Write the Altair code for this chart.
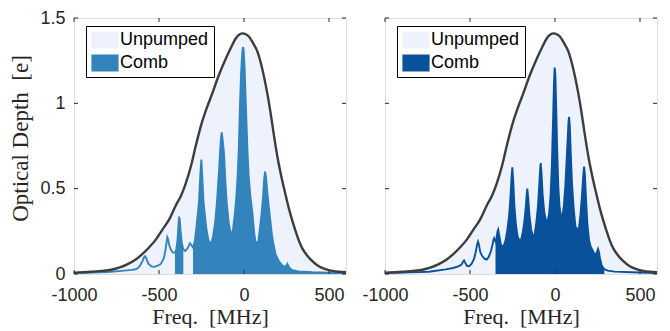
import altair as alt
import pandas as pd

# ---------------- data ----------------
env_freq = [-1000, -900, -833, -780, -735, -690, -637, -600, -559, -520, -480, -440, -402, -370,
            -343, -310, -284, -250, -220, -186, -150, -108, -75, -49, -25, -8, 10, 30, 49, 80,
            108, 135, 157, 175, 196, 220, 243, 265, 285, 304, 325, 343, 370, 402, 440, 480,
            520, 559, 600]
env_od = [0.008, 0.013, 0.018, 0.025, 0.037, 0.055, 0.085, 0.115, 0.155, 0.2, 0.26, 0.32, 0.4, 0.46,
          0.53, 0.64, 0.75, 0.88, 0.97, 1.06, 1.16, 1.26, 1.33, 1.38, 1.405, 1.41, 1.405, 1.39, 1.36, 1.3,
          1.2, 1.07, 0.94, 0.82, 0.69, 0.57, 0.47, 0.38, 0.31, 0.25, 0.19, 0.15, 0.11, 0.075, 0.045, 0.028,
          0.018, 0.013, 0.01]

left_freq = [-1000, -900, -800, -735, -660, -637, -620, -608, -595, -588, -582, -576, -563, -545,
             -529, -510, -490, -471, -462, -455, -451, -447, -440, -431, -418, -406, -398, -391,
             -386, -382, -378, -373, -366, -357, -347, -335, -325, -318, -310, -300, -290, -280,
             -265, -257, -251, -246, -238, -222, -210, -196, -182, -170, -159, -146, -141, -136,
             -131, -126, -118, -110, -102, -90, -75, -65, -55, -45, -36, -30, -24, -17, -10, -6,
             -2, 3, 9, 14, 20, 27, 37, 49, 60, 69, 84, 94, 104, 112, 118, 124, 130, 137, 143, 153,
             163, 172, 186, 205, 225, 242, 250, 255, 260, 268, 285, 320, 400, 500, 600]
left_od = [0.006, 0.008, 0.012, 0.017, 0.024, 0.028, 0.038, 0.056, 0.08, 0.098, 0.104, 0.095, 0.06, 0.045,
           0.042, 0.048, 0.058, 0.094, 0.14, 0.19, 0.215, 0.205, 0.17, 0.145, 0.125, 0.125, 0.145, 0.2,
           0.28, 0.336, 0.32, 0.25, 0.18, 0.145, 0.135, 0.145, 0.165, 0.18, 0.17, 0.155, 0.19, 0.27,
           0.42, 0.58, 0.67, 0.58, 0.42, 0.27, 0.2, 0.17, 0.22, 0.3, 0.42, 0.62, 0.71, 0.79,
           0.83, 0.79, 0.71, 0.55, 0.42, 0.3, 0.22, 0.26, 0.34, 0.45, 0.6, 0.75, 0.98, 1.18, 1.3, 1.33,
           1.31, 1.22, 1.05, 0.9, 0.73, 0.58, 0.46, 0.36, 0.24, 0.18, 0.19, 0.27, 0.36, 0.45, 0.55, 0.6,
           0.56, 0.48, 0.42, 0.33, 0.24, 0.18, 0.115, 0.075, 0.05, 0.042, 0.05, 0.06, 0.05, 0.035, 0.022,
           0.015, 0.01, 0.008, 0.006]

right_freq = [-1000, -900, -800, -741, -643, -600, -565, -550, -542, -535, -528, -518, -505, -490,
              -476, -466, -458, -453, -448, -440, -428, -415, -402, -390, -378, -368, -362, -358,
              -353, -350, -344, -338, -334, -329, -320, -310, -300, -290, -280, -270, -262, -256,
              -251, -246, -239, -230, -220, -210, -200, -190, -180, -172, -167, -163, -158, -150,
              -140, -129, -120, -110, -100, -92, -87, -84, -80, -73, -63, -52, -45, -35, -26, -18,
              -11, -6, -2, 2, 7, 13, 20, 27, 35, 43, 52, 61, 68, 75, 80, 83, 87, 93, 100, 110, 120,
              131, 141, 150, 158, 165, 171, 176, 182, 190, 200, 210, 218, 230, 240, 247, 253, 258,
              265, 275, 290, 310, 350, 450, 600]
right_od = [0.006, 0.008, 0.011, 0.013, 0.027, 0.035, 0.046, 0.055, 0.07, 0.079, 0.065, 0.048, 0.045, 0.06,
            0.09, 0.13, 0.175, 0.19, 0.175, 0.13, 0.105, 0.09, 0.085, 0.1, 0.13, 0.17, 0.2, 0.21,
            0.195, 0.19, 0.21, 0.25, 0.26, 0.23, 0.18, 0.155, 0.17, 0.2, 0.26, 0.34, 0.45, 0.56,
            0.625, 0.55, 0.4, 0.29, 0.22, 0.195, 0.2, 0.24, 0.31, 0.39, 0.46, 0.5, 0.45, 0.34,
            0.26, 0.22, 0.23, 0.3, 0.4, 0.53, 0.62, 0.65, 0.6, 0.47, 0.36, 0.31, 0.3, 0.35, 0.46, 0.65,
            0.92, 1.12, 1.21, 1.17, 0.98, 0.72, 0.5, 0.39, 0.34, 0.33, 0.4, 0.52, 0.66, 0.8, 0.9, 0.92,
            0.87, 0.7, 0.53, 0.38, 0.28, 0.26, 0.27, 0.35, 0.45, 0.56, 0.63, 0.58, 0.45, 0.3, 0.2, 0.16,
            0.145, 0.12, 0.115, 0.13, 0.147, 0.13, 0.09, 0.05, 0.028, 0.02, 0.014, 0.01, 0.006]

left_fill_ranges = [(-406, -357), (-300, 600)]
right_fill_ranges = [(-350, 290)]

x_ticks = [-1000, -500, 0, 500]
y_ticks = [0, 0.5, 1, 1.5]
series_names = ["Unpumped", "Comb"]

# ---------------- style ----------------
LEFT_COLOR = "#3383bd"
RIGHT_COLOR = "#0a519c"
ENV_FILL = "#edf2fd"
ENV_LINE = "#3d3d3d"
AX = "#262626"
W, H = 272, 256


def panel(cf, co, fills, color, show_y):
    env = pd.DataFrame({"f": env_freq, "od": env_od, "series": series_names[0]})
    comb = pd.DataFrame({"f": cf, "od": co})
    segs = []
    for i, (lo, hi) in enumerate(fills):
        s = comb[(comb.f >= lo) & (comb.f <= hi)].copy()
        s["seg"] = i
        s["series"] = series_names[1]
        segs.append(s)
    fill_df = pd.concat(segs, ignore_index=True)

    xs = alt.Scale(domain=[-1000, 600], nice=False, zero=False)
    ys = alt.Scale(domain=[0, 1.5], nice=False, zero=False)
    xaxis = alt.Axis(values=x_ticks, ticks=False, grid=False, domain=False,
                     labelFont="Liberation Sans", labelFontSize=18, labelColor=AX,
                     labelPadding=12, labelExpr="'' + datum.value",
                     title="Freq.\u00a0\u00a0[MHz]",
                     titleFont="Liberation Serif", titleFontSize=22, titleFontWeight="normal",
                     titleColor=AX, titlePadding=2, labelFlush=False)
    if show_y:
        yaxis = alt.Axis(values=y_ticks, ticks=False, grid=False, domain=False,
                         labelFont="Liberation Sans", labelFontSize=18, labelColor=AX,
                         labelPadding=9, title="Optical\u00a0Depth\u00a0\u00a0[e]",
                         titleFont="Liberation Serif", titleFontSize=23, titleFontWeight="normal",
                         titleColor=AX, titlePadding=7, titleY=120, labelExpr="'' + datum.value")
    else:
        yaxis = None
    X = alt.X("f:Q", scale=xs, axis=xaxis)
    Y = alt.Y("od:Q", scale=ys, axis=yaxis, stack=None)
    cscale = alt.Scale(domain=series_names, range=[ENV_FILL, color])
    legend = alt.Legend(title=None, orient="none", legendX=12, legendY=8,
                        symbolType="M-1.6,-1H1.6V1H-1.6Z", symbolSize=289, symbolStrokeWidth=0,
                        symbolOffset=5, labelOffset=6, labelFont="Liberation Sans",
                        labelFontSize=18, labelColor="black", padding=5, rowPadding=5,
                        fillColor="white", strokeColor="black", cornerRadius=0)
    C = alt.Color("series:N", scale=cscale, legend=legend)

    env_area = alt.Chart(env).mark_area(interpolate="monotone", clip=True).encode(x=X, y=Y, color=C)
    comb_area = alt.Chart(fill_df).mark_area(clip=True).encode(x=X, y=Y, color=C, detail="seg:N")
    comb_line = alt.Chart(comb).mark_line(color=color, strokeWidth=1.9, clip=True).encode(x=X, y=Y)
    env_line = alt.Chart(env).mark_line(color=ENV_LINE, strokeWidth=2.4, interpolate="monotone",
                                        clip=True).encode(x=X, y=Y)

    ytk = pd.DataFrame({"od": y_ticks})
    xtk = pd.DataFrame({"f": x_ticks})
    tick_l = alt.Chart(ytk).mark_rule(color=AX, strokeWidth=1).encode(y=Y, x=alt.value(0), x2=alt.value(4))
    tick_r = alt.Chart(ytk).mark_rule(color=AX, strokeWidth=1).encode(y=Y, x=alt.value(W - 4), x2=alt.value(W))
    tick_b = alt.Chart(xtk).mark_rule(color=AX, strokeWidth=1).encode(x=X, y=alt.value(H - 4), y2=alt.value(H))
    tick_t = alt.Chart(xtk).mark_rule(color=AX, strokeWidth=1).encode(x=X, y=alt.value(0), y2=alt.value(4))

    return alt.layer(env_area, comb_area, comb_line, env_line, tick_l, tick_r, tick_b, tick_t).properties(
        width=W, height=H)


left = panel(left_freq, left_od, left_fill_ranges, LEFT_COLOR, True)
right = panel(right_freq, right_od, right_fill_ranges, RIGHT_COLOR, False)

chart = alt.hconcat(left, right, spacing=39, bounds="flush").resolve_scale(color="independent").properties(
    padding={"left": 1, "top": 0, "right": 0, "bottom": 0}
).configure_view(stroke=AX, strokeWidth=1).configure(background="white")

chart.save("out.html", embed_options={"renderer": "svg", "actions": False})
